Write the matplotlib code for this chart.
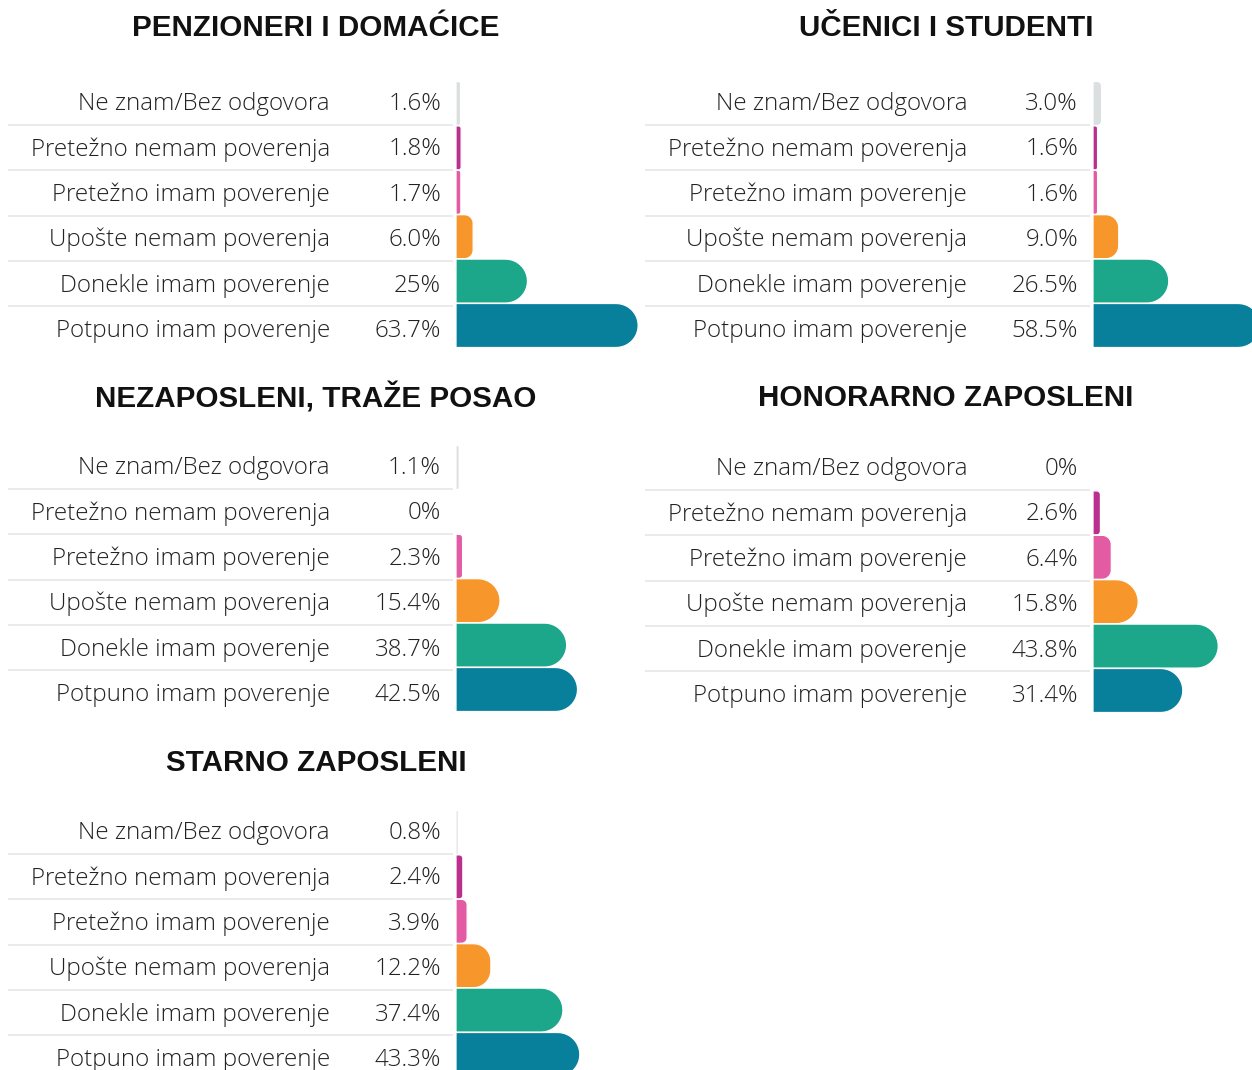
import numpy as np
import matplotlib
matplotlib.use("Agg")
import matplotlib.pyplot as plt
from matplotlib.path import Path
from matplotlib.patches import PathPatch

# Data
categories = [
    "Ne znam/Bez odgovora",
    "Pretežno nemam poverenja",
    "Pretežno imam poverenje",
    "Upošte nemam poverenja",
    "Donekle imam poverenje",
    "Potpuno imam poverenje",
]
titles = [
    "PENZIONERI I DOMAĆICE",
    "UČENICI I STUDENTI",
    "NEZAPOSLENI, TRAŽE POSAO",
    "HONORARNO ZAPOSLENI",
    "STARNO ZAPOSLENI",
]
penzioneri = [1.6, 1.8, 1.7, 6.0, 25.0, 63.7]
ucenici = [3.0, 1.6, 1.6, 9.0, 26.5, 58.5]
nezaposleni = [1.1, 0.0, 2.3, 15.4, 38.7, 42.5]
honorarno = [0.0, 2.6, 6.4, 15.8, 43.8, 31.4]
stalno = [0.8, 2.4, 3.9, 12.2, 37.4, 43.3]
value_labels = [
    ["1.6%", "1.8%", "1.7%", "6.0%", "25%", "63.7%"],
    ["3.0%", "1.6%", "1.6%", "9.0%", "26.5%", "58.5%"],
    ["1.1%", "0%", "2.3%", "15.4%", "38.7%", "42.5%"],
    ["0%", "2.6%", "6.4%", "15.8%", "43.8%", "31.4%"],
    ["0.8%", "2.4%", "3.9%", "12.2%", "37.4%", "43.3%"],
]
colors = ["#dcdfe0", "#bb2f8f", "#e35ba3", "#f7962a", "#1ca78a", "#08809c"]
series = [penzioneri, ucenici, nezaposleni, honorarno, stalno]

# Layout (pixels)
W, H = 1252, 1070
PX_PER_PCT = 2.86
ROW = 45.4        # text row pitch
BAR_PITCH = 44.4  # bar row pitch
BAR_H = 44.0
panels = [  # bar start x, first row center y, title center x, title y
    (456, 102, 316, 28),
    (1093, 102, 946, 28),
    (456, 466, 316, 398),
    (1093, 467, 946, 398),
    (456, 831, 316, 763),
]

fig = plt.figure(figsize=(W / 100, H / 100), dpi=100)
fig.patch.set_facecolor("white")

LABEL_FONT = dict(family=["Open Sans", "DejaVu Sans"], weight="light", size=17.4, color="#222222")
TEXT_DY = 2.0 / ROW


def rounded_bar(ax, y, value, color):
    w = value * PX_PER_PCT
    if w <= 0:
        return
    h = BAR_H
    r = min(h / 2, w / 2)
    t = np.linspace(np.pi / 2, 0, 12)
    top_arc = np.column_stack([w - r + r * np.cos(t), -h / 2 + r - r * np.sin(t)])
    t2 = np.linspace(0, -np.pi / 2, 12)
    bot_arc = np.column_stack([w - r + r * np.cos(t2), h / 2 - r - r * np.sin(t2)])
    pts = np.vstack([[[0, -h / 2]], top_arc, bot_arc, [[0, h / 2]], [[0, -h / 2]]])
    pts = np.column_stack([pts[:, 0] / PX_PER_PCT, y + pts[:, 1] / ROW])
    codes = [Path.MOVETO] + [Path.LINETO] * (len(pts) - 2) + [Path.CLOSEPOLY]
    ax.add_patch(PathPatch(Path(pts, codes), facecolor=color, edgecolor="white", lw=0.9))


for (x0, y0, tx, ty), title, vals, labs in zip(panels, titles, series, value_labels):
    top = y0 - 0.5 * ROW
    bottom = y0 + 5.5 * ROW
    ax_w = 220
    ax = fig.add_axes([x0 / W, 1 - bottom / H, ax_w / W, (bottom - top) / H])
    ax.set_xlim(0, ax_w / PX_PER_PCT)
    ax.set_ylim(5.5, -0.5)
    ax.axis("off")

    for i, (cat, v, lab) in enumerate(zip(categories, vals, labs)):
        bar_y = (1.5 + i * BAR_PITCH) / ROW
        rounded_bar(ax, bar_y, v, colors[i])
        ax.text((330 - 456) / PX_PER_PCT, i + TEXT_DY, cat, ha="right", va="center",
                clip_on=False, **LABEL_FONT)
        ax.text((441 - 456) / PX_PER_PCT, i + TEXT_DY, lab, ha="right", va="center",
                clip_on=False, **LABEL_FONT)
        if i < 5:
            ax.plot([(8 - 456) / PX_PER_PCT, (453 - 456) / PX_PER_PCT], [i + 0.5, i + 0.5],
                    color="#e8e8e8", lw=1.3, clip_on=False, solid_capstyle="butt")

    fig.text(tx / W, 1 - ty / H, title, ha="center", va="center",
             family=["Liberation Sans", "DejaVu Sans"], weight="bold", size=21.3, color="#111111")

fig.savefig("out.png", dpi=100, facecolor="white")
